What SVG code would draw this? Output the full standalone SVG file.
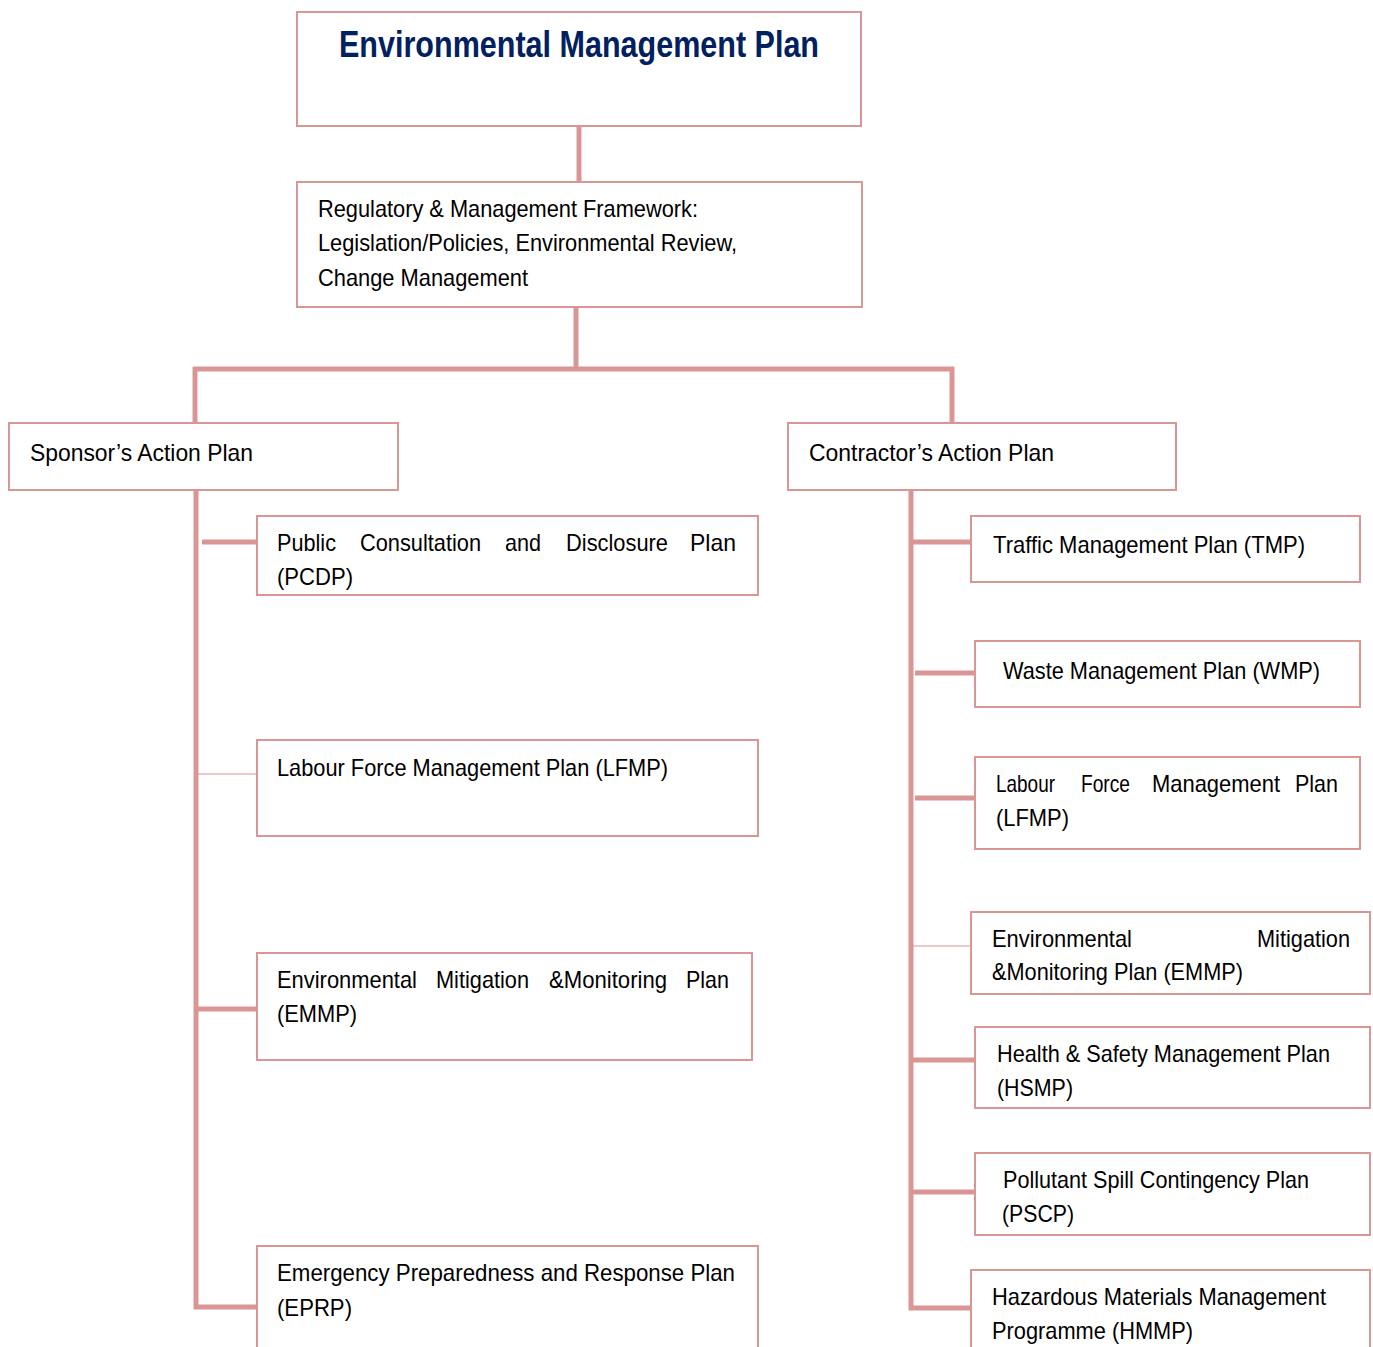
<svg xmlns="http://www.w3.org/2000/svg" width="1373" height="1347" viewBox="0 0 1373 1347">
<style>
.box{fill:#fff;stroke:#D99694;stroke-width:2}
.c{stroke:#D99694;stroke-width:5;fill:none}
.t{stroke:#D99694;stroke-width:1.2;fill:none}
text{font-family:"Liberation Sans",Arial,sans-serif;font-size:24px;fill:#000}
.title{font-size:36px;font-weight:bold;fill:#002060}
</style>
<rect width="1373" height="1347" fill="#fff"/>
<g id="connectors">
<line class="c" x1="579" y1="126" x2="579" y2="182"/>
<line class="c" x1="576" y1="307" x2="576" y2="370"/>
<line class="c" x1="193" y1="369" x2="954" y2="369"/>
<line class="c" x1="195" y1="367" x2="195" y2="423"/>
<line class="c" x1="952" y1="367" x2="952" y2="423"/>
<polyline class="c" points="196,490 196,1307 257,1307"/>
<line class="c" x1="202" y1="542" x2="257" y2="542"/>
<line class="t" x1="198" y1="774" x2="257" y2="774"/>
<line class="c" x1="198" y1="1009" x2="257" y2="1009"/>
<polyline class="c" points="911,490 911,1308 971,1308"/>
<line class="c" x1="913" y1="542" x2="971" y2="542"/>
<line class="c" x1="915" y1="673" x2="975" y2="673"/>
<line class="c" x1="915" y1="798" x2="975" y2="798"/>
<line class="t" x1="913" y1="946" x2="971" y2="946"/>
<line class="c" x1="913" y1="1060" x2="975" y2="1060"/>
<line class="c" x1="913" y1="1192" x2="975" y2="1192"/>
</g>
<g id="emp">
<rect class="box" x="297" y="12" width="564" height="114"/>
<text class="title" x="339" y="57" textLength="480" lengthAdjust="spacingAndGlyphs">Environmental Management Plan</text>
</g>
<g id="framework">
<rect class="box" x="297" y="182" width="565" height="125"/>
<text x="318" y="217" textLength="380" lengthAdjust="spacingAndGlyphs">Regulatory &amp; Management Framework:</text>
<text x="318" y="251" textLength="419" lengthAdjust="spacingAndGlyphs">Legislation/Policies, Environmental Review,</text>
<text x="318" y="286" textLength="210" lengthAdjust="spacingAndGlyphs">Change Management</text>
</g>
<g id="sponsor">
<rect class="box" x="9" y="423" width="389" height="67"/>
<text x="30" y="461" textLength="223" lengthAdjust="spacingAndGlyphs">Sponsor’s Action Plan</text>
</g>
<g id="contractor">
<rect class="box" x="788" y="423" width="388" height="67"/>
<text x="809" y="461" textLength="245" lengthAdjust="spacingAndGlyphs">Contractor’s Action Plan</text>
</g>
<g id="s-pcdp">
<rect class="box" x="257" y="516" width="501" height="79"/>
<text y="551"><tspan x="277" textLength="59" lengthAdjust="spacingAndGlyphs">Public</tspan> <tspan x="360" textLength="121" lengthAdjust="spacingAndGlyphs">Consultation</tspan> <tspan x="505" textLength="36" lengthAdjust="spacingAndGlyphs">and</tspan> <tspan x="566" textLength="102" lengthAdjust="spacingAndGlyphs">Disclosure</tspan> <tspan x="690" textLength="46" lengthAdjust="spacingAndGlyphs">Plan</tspan></text>
<text x="277" y="585" textLength="76" lengthAdjust="spacingAndGlyphs">(PCDP)</text>
</g>
<g id="s-lfmp">
<rect class="box" x="257" y="740" width="501" height="96"/>
<text x="277" y="776" textLength="391" lengthAdjust="spacingAndGlyphs">Labour Force Management Plan (LFMP)</text>
</g>
<g id="s-emmp">
<rect class="box" x="257" y="953" width="495" height="107"/>
<text y="988"><tspan x="277" textLength="140" lengthAdjust="spacingAndGlyphs">Environmental</tspan> <tspan x="436" textLength="93" lengthAdjust="spacingAndGlyphs">Mitigation</tspan> <tspan x="549" textLength="118" lengthAdjust="spacingAndGlyphs">&amp;Monitoring</tspan> <tspan x="686" textLength="43" lengthAdjust="spacingAndGlyphs">Plan</tspan></text>
<text x="277" y="1022" textLength="80" lengthAdjust="spacingAndGlyphs">(EMMP)</text>
</g>
<g id="s-eprp">
<rect class="box" x="257" y="1246" width="501" height="120"/>
<text x="277" y="1281" textLength="458" lengthAdjust="spacingAndGlyphs">Emergency Preparedness and Response Plan</text>
<text x="277" y="1316" textLength="75" lengthAdjust="spacingAndGlyphs">(EPRP)</text>
</g>
<g id="c-tmp">
<rect class="box" x="971" y="516" width="389" height="66"/>
<text x="993" y="553" textLength="312" lengthAdjust="spacingAndGlyphs">Traffic Management Plan (TMP)</text>
</g>
<g id="c-wmp">
<rect class="box" x="975" y="641" width="385" height="66"/>
<text x="1003" y="679" textLength="317" lengthAdjust="spacingAndGlyphs">Waste Management Plan (WMP)</text>
</g>
<g id="c-lfmp">
<rect class="box" x="975" y="757" width="385" height="92"/>
<text y="792"><tspan x="996" textLength="59" lengthAdjust="spacingAndGlyphs">Labour</tspan> <tspan x="1081" textLength="49" lengthAdjust="spacingAndGlyphs">Force</tspan> <tspan x="1152" textLength="128" lengthAdjust="spacingAndGlyphs">Management</tspan> <tspan x="1295" textLength="43" lengthAdjust="spacingAndGlyphs">Plan</tspan></text>
<text x="996" y="826" textLength="73" lengthAdjust="spacingAndGlyphs">(LFMP)</text>
</g>
<g id="c-emmp">
<rect class="box" x="971" y="912" width="399" height="82"/>
<text y="947"><tspan x="992" textLength="140" lengthAdjust="spacingAndGlyphs">Environmental</tspan> <tspan x="1257" textLength="93" lengthAdjust="spacingAndGlyphs">Mitigation</tspan></text>
<text x="992" y="980" textLength="251" lengthAdjust="spacingAndGlyphs">&amp;Monitoring Plan (EMMP)</text>
</g>
<g id="c-hsmp">
<rect class="box" x="975" y="1027" width="395" height="81"/>
<text x="997" y="1062" textLength="333" lengthAdjust="spacingAndGlyphs">Health &amp; Safety Management Plan</text>
<text x="997" y="1096" textLength="76" lengthAdjust="spacingAndGlyphs">(HSMP)</text>
</g>
<g id="c-pscp">
<rect class="box" x="975" y="1153" width="395" height="82"/>
<text x="1003" y="1188" textLength="306" lengthAdjust="spacingAndGlyphs">Pollutant Spill Contingency Plan</text>
<text x="1002" y="1222" textLength="72" lengthAdjust="spacingAndGlyphs">(PSCP)</text>
</g>
<g id="c-hmmp">
<rect class="box" x="971" y="1270" width="399" height="100"/>
<text x="992" y="1305" textLength="334" lengthAdjust="spacingAndGlyphs">Hazardous Materials Management</text>
<text x="992" y="1339" textLength="201" lengthAdjust="spacingAndGlyphs">Programme (HMMP)</text>
</g>
</svg>
